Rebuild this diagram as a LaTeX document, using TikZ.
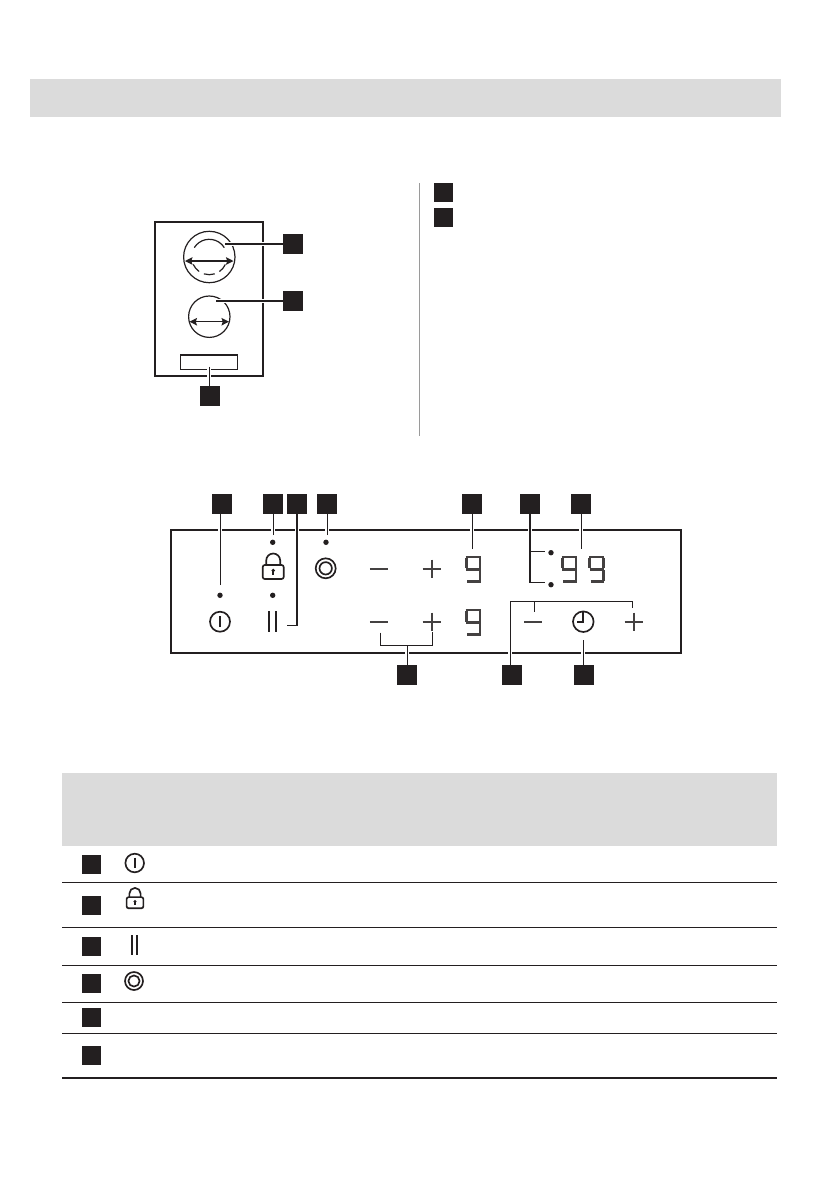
\documentclass[tikz,border=0pt]{standalone}
\usepackage{tikz}
\usetikzlibrary{calc,arrows.meta}
\definecolor{inkblack}{HTML}{231F20}
\definecolor{bandgray}{HTML}{DBDBDB}
\definecolor{rulegray}{HTML}{9A9A9A}
\tikzset{
	numbox/.style={fill=inkblack, draw=none, inner sep=0pt, outer sep=0pt, minimum size=0.4cm},
	smallbox/.style={numbox, minimum size=0.38cm},
	leader/.style={line width=0.72pt, color=inkblack, preaction={draw=white, line width=2.4pt}},
	panelline/.style={line width=1.2pt, color=inkblack},
	hobline/.style={line width=0.68pt, color=inkblack},
	iconline/.style={line width=0.95pt, color=inkblack},
	markline/.style={line width=0.92pt, color=inkblack!85},
	ringline/.style={line width=0.95pt, color=inkblack},
	segline/.style={line width=1.5pt, color=inkblack!85},
	tablerule/.style={line width=0.72pt, color=inkblack},
	wiparrow/.style={line width=0.7pt, color=inkblack, {Stealth[length=1.5mm,width=1.5mm,inset=0.25mm]}-{Stealth[length=1.5mm,width=1.5mm,inset=0.25mm]}}
}
\def\ringarc(#1)(#2:#3:#4){\draw[hobline] ($(#1)+(#2:#4)$) arc (#2:#3:#4);}
\def\powericon(#1,#2)[#3]{\draw[iconline] (#1,#2) circle (#3); \draw[iconline] (#1,{#2-0.57*#3}) -- (#1,{#2+0.57*#3});}
\def\targeticon(#1,#2)[#3]{\draw[ringline] (#1,#2) circle (#3); \draw[ringline] (#1,#2) circle ({0.62*#3});}
\def\pauseicon(#1,#2)[#3:#4]{\draw[iconline] ({#1-#4},{#2-0.5*#3}) -- ({#1-#4},{#2+0.5*#3}); \draw[iconline] ({#1+#4},{#2-0.5*#3}) -- ({#1+#4},{#2+0.5*#3});}
\def\lockicon(#1,#2)[#3]{
	\begin{scope}[shift={(#1,#2)}, scale=#3]
		\draw[ringline, rounded corners=1.2pt] (-10.5,-3) rectangle (10.5,11);
		\draw[ringline] (-7,-3) -- (-7,-7.5) arc (180:360:7) -- (7,-3);
		\fill[inkblack] (0,2.5) circle (1.9);
		\draw[ringline] (0,2.5) -- (0,7);
	\end{scope}}
\def\nineseg(#1,#2){
	\begin{scope}[shift={(#1,#2)}]
		\draw[segline] (0.6,1) -- (15.6,1);
		\draw[segline] (1.3,1.6) -- (1.3,12.5);
		\draw[segline] (14.9,1.6) -- (14.9,12.5);
		\draw[segline] (1,13.3) -- (15.6,13.3);
		\draw[segline] (14.9,14.5) -- (14.9,25);
		\draw[segline] (2,25.6) -- (15.6,25.6);
	\end{scope}}
\def\minusmark(#1,#2){\draw[markline] ({#1-9},#2) -- ({#1+9},#2);}
\def\plusmark(#1,#2){\draw[markline] ({#1-9},#2) -- ({#1+9},#2); \draw[markline] (#1,{#2-9}) -- (#1,{#2+9});}

\begin{document}
\begin{tikzpicture}[x=0.02cm, y=-0.02cm]
	%%%%% START %%%%%
	\useasboundingbox (0,0) rectangle (839,1191);
	
	\fill[bandgray] (30,79) rectangle (781,117);
	\fill[bandgray] (62,773) rectangle (777,846);
	
	% hob outline
	\draw[panelline] (155,222) rectangle (263,376);
	\draw[hobline] (209.3,257) circle (25.7);
	\ringarc(209.3,257)(212:328:17.7)
	\ringarc(209.3,257)(125:155:17.7)
	\ringarc(209.3,257)(72:108:17.7)
	\ringarc(209.3,257)(25:55:17.7)
	\draw[wiparrow] (185,261) -- (233.5,261);
	\draw[hobline] (209.3,316.7) circle (20.7);
	\draw[wiparrow] (189.5,321.7) -- (229,321.7);
	\draw[hobline] (180.3,355) rectangle (237.7,369.3);
	
	\coordinate (hob1end) at (225,244);
	\coordinate (hob2end) at (216,301);
	\coordinate (panelend) at (209.3,366.7);
	\node[numbox] (hob1) at (293,244) {};
	\node[numbox] (hob2) at (293,301) {};
	\node[numbox] (panel) at (210,396) {};
	\draw[leader] (hob1end) -- (hob1.west);
	\draw[leader] (hob2end) -- (hob2.west);
	\draw[leader] (panelend) -- (panelend |- panel.north);
	
	% side list
	\draw[line width=0.7pt, color=rulegray] (419.5,183) -- (419.5,436);
	\node[smallbox] (side1) at (443.5,192.5) {};
	\node[smallbox] (side2) at (443.5,217.5) {};
	
	% control panel
	\draw[panelline] (170.7,529.7) rectangle (681,652.7);
	
	\coordinate (top1end) at (220.3,585);
	\coordinate (top2end) at (273.3,535);
	\coordinate (top3end) at (287,625.3);
	\coordinate (top4end) at (327.3,535);
	\coordinate (top5end) at (472.3,549);
	\coordinate (top6up) at (544.7,551.3);
	\coordinate (top6down) at (544.7,582.3);
	\coordinate (top7end) at (581.3,548.7);
	\coordinate (bot1left) at (380.3,632.7);
	\coordinate (bot1right) at (432.7,631.7);
	\coordinate (bot1join) at (407.3,645.3);
	\coordinate (bot2left) at (510.3,601.7);
	\coordinate (bot2minus) at (534.3,611.7);
	\coordinate (bot2plus) at (632.3,608.3);
	\coordinate (bot3end) at (583.3,640.3);
	
	\node[numbox] (top1) at (222,504) {};
	\node[numbox] (top2) at (273,504) {};
	\node[numbox] (top3) at (297,504) {};
	\node[numbox] (top4) at (327,504) {};
	\node[numbox] (top5) at (472,504) {};
	\node[numbox] (top6) at (530,504) {};
	\node[numbox] (top7) at (581,504) {};
	\node[numbox] (bot1) at (407,675) {};
	\node[numbox] (bot2) at (512,675) {};
	\node[numbox] (bot3) at (584,675) {};
	
	\draw[leader] (top1end) -- (top1end |- top1.south);
	\draw[leader] (top2end) -- (top2end |- top2.south);
	\draw[leader] (top3end) -- (top3end -| top3) -- (top3.south);
	\draw[leader] (top4end) -- (top4end |- top4.south);
	\draw[leader] (top5end) -- (top5end |- top5.south);
	\draw[leader] (top6.south) -- (top6down -| top6) -- (top6down) (top6up -| top6) -- (top6up);
	\draw[leader] (top7end) -- (top7end |- top7.south);
	\draw[leader] (bot1left) -- (bot1left |- bot1join) -- (bot1join -| bot1right) -- (bot1right) (bot1join) -- (bot1join |- bot1.north);
	\draw[leader] (bot2left |- bot2.north) -- (bot2left) -- (bot2left -| bot2plus) -- (bot2plus) (bot2minus |- bot2left) -- (bot2minus);
	\draw[leader] (bot3end) -- (bot3end |- bot3.north);
	
	\fill[inkblack] (220,595.3) circle (2.7);
	\fill[inkblack] (272.7,542.3) circle (2.7);
	\fill[inkblack] (272.7,595.3) circle (2.7);
	\fill[inkblack] (326,542.3) circle (2.7);
	\fill[inkblack] (551,552.7) circle (2.7);
	\fill[inkblack] (551,584.7) circle (2.7);
	
	\powericon(220,621.7)[10]
	\lockicon(273.2,568)[1]
	\pauseicon(272.8,621.5)[20.7:3.5]
	\targeticon(325.7,568.3)[10]
	
	\minusmark(378.8,568.7)
	\plusmark(431.7,568.7)
	\minusmark(378.8,621.7)
	\plusmark(431.7,621.7)
	\minusmark(533.3,621.7)
	\plusmark(633.7,621.7)
	
	\nineseg(465,555.9)
	\nineseg(465,609)
	\nineseg(561,555.9)
	\nineseg(588.5,555.9)
	
	\draw[iconline] (583.3,621.7) circle (10.3);
	\draw[iconline] (577,621.7) -- (583.3,621.7) -- (583.3,612);
	
	% table
	\draw[tablerule] (62,882.3) -- (777,882.3);
	\draw[tablerule] (62,927.3) -- (777,927.3);
	\draw[tablerule] (62,965.7) -- (777,965.7);
	\draw[tablerule] (62,1002.3) -- (777,1002.3);
	\draw[tablerule] (62,1033.3) -- (777,1033.3);
	\draw[line width=1.2pt, color=inkblack] (62,1077.7) -- (777,1077.7);
	
	\node[smallbox] (row1) at (91.5,864) {};
	\node[smallbox] (row2) at (91.5,905.3) {};
	\node[smallbox] (row3) at (91.5,946.3) {};
	\node[smallbox] (row4) at (91.5,983.7) {};
	\node[smallbox] (row5) at (91.5,1017.3) {};
	\node[smallbox] (row6) at (91.5,1055.3) {};
	
	\powericon(134.7,863)[9.3]
	\lockicon(135,899.5)[0.8]
	\pauseicon(134.5,945)[20:2.8]
	\targeticon(134,981)[9]
	
	%%%%% END %%%%%
\end{tikzpicture}
\end{document}
